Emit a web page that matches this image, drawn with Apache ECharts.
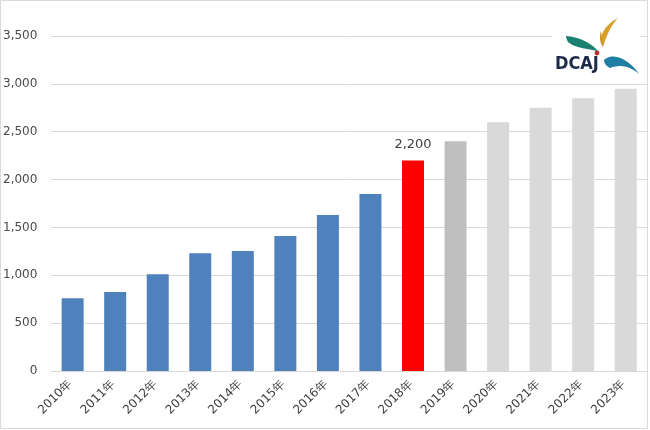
<!DOCTYPE html>
<html>
<head>
<meta charset="utf-8">
<style>html,body{margin:0;padding:0;background:#fff}#c{width:650px;height:430px}</style>
<script src="https://cdn.jsdelivr.net/npm/echarts@6/dist/echarts.min.js"></script>
</head>
<body>
<div id="c"></div>
<script>
const categories = ['2010年','2011年','2012年','2013年','2014年','2015年','2016年','2017年','2018年','2019年','2020年','2021年','2022年','2023年'];
const values = [760, 825, 1010, 1230, 1255, 1410, 1630, 1850, 2200, 2400, 2600, 2750, 2850, 2950];
const yTicks = [0, 500, 1000, 1500, 2000, 2500, 3000, 3500];
const labelledYear = '2018年';

function colorFor(i) {
  const y = parseInt(categories[i], 10);
  if (y <= 2017) return '#4f81bd';
  if (y === 2018) return '#ff0000';
  if (y === 2019) return '#bfbfbf';
  return '#d9d9d9';
}

// sample a closed shape made of cubic bezier segments into polygon points
function bez(start, segs) {
  const pts = [start];
  let p0 = start;
  segs.forEach(s => {
    const [c1, c2, p3] = s;
    for (let k = 1; k <= 16; k++) {
      const t = k / 16, u = 1 - t;
      pts.push([
        u*u*u*p0[0] + 3*u*u*t*c1[0] + 3*u*t*t*c2[0] + t*t*t*p3[0],
        u*u*u*p0[1] + 3*u*u*t*c1[1] + 3*u*t*t*c2[1] + t*t*t*p3[1]
      ]);
    }
    p0 = p3;
  });
  return pts;
}

const chart = echarts.init(document.getElementById('c'), null, {renderer: 'canvas'});
const font = 'DejaVu Sans';
chart.setOption({
  animation: false,
  grid: {left: 51, right: 3, top: 36, bottom: 59, containLabel: false},
  xAxis: {
    type: 'category',
    data: categories,
    axisLine: {show: true, lineStyle: {color: '#d9d9d9', width: 1}},
    axisTick: {show: false},
    axisLabel: {rotate: 45, margin: 9, padding: [0, 3, 0, 0], color: '#404040', fontFamily: font, fontSize: 12, interval: 0}
  },
  yAxis: {
    type: 'value',
    min: yTicks[0],
    max: yTicks[yTicks.length - 1],
    interval: 500,
    axisLine: {show: false},
    axisTick: {show: false},
    splitLine: {lineStyle: {color: '#d9d9d9', width: 1}},
    axisLabel: {
      margin: 14, color: '#4a4a4a', fontFamily: font, fontSize: 12,
      formatter: v => v.toLocaleString('en-US')
    }
  },
  series: [{
    type: 'bar',
    barWidth: 22,
    data: values.map((v, i) => ({
      value: v,
      itemStyle: {color: colorFor(i)},
      label: categories[i] === labelledYear ? {
        show: true, position: 'top', distance: 9,
        color: '#404040', fontFamily: font, fontSize: 13,
        formatter: p => p.value.toLocaleString('en-US')
      } : {show: false}
    }))
  }],
  graphic: [
    {type: 'rect', silent: true, z: 100,
     shape: {x: 0.5, y: 0.5, width: 647, height: 428},
     style: {fill: null, stroke: '#d9d9d9', lineWidth: 1}},
    {type: 'rect', z: 90, shape: {x: 552, y: 19, width: 88, height: 63}, style: {fill: '#ffffff'}},
    {type: 'polygon', z: 91,
     shape: {points: bez([566,36], [[[578,37],[590,42],[598,51]], [[588,49],[575,48],[568,42]], [[567,40],[566,38],[566,36]]])},
     style: {fill: '#1a8070'}},
    {type: 'polygon', z: 91,
     shape: {points: bez([618,18], [[[606,24],[597,36],[603,47]], [[606,38],[609,28],[618,18]]])},
     style: {fill: '#d6a02a'}},
    {type: 'polygon', z: 91,
     shape: {points: bez([601,31], [[[599,37],[600,43],[603,47]], [[602,42],[602,36],[601,31]]])},
     style: {fill: '#c8941f'}},
    {type: 'circle', z: 92, shape: {cx: 597, cy: 53, r: 2.4}, style: {fill: '#b8302c'}},
    {type: 'polygon', z: 91,
     shape: {points: bez([604,60], [[[612,52],[628,58],[639,74]], [[630,66],[620,64],[610,68]], [[606,66],[604,63],[604,60]]])},
     style: {fill: '#1f7ea3'}},
    {type: 'text', z: 92,
     style: {x: 555, y: 64.5, verticalAlign: 'middle', text: 'DCAJ', fill: '#1d2b4a', font: 'bold 18px "DejaVu Sans Condensed", "DejaVu Sans"'}}
  ]
});
</script>
</body>
</html>
